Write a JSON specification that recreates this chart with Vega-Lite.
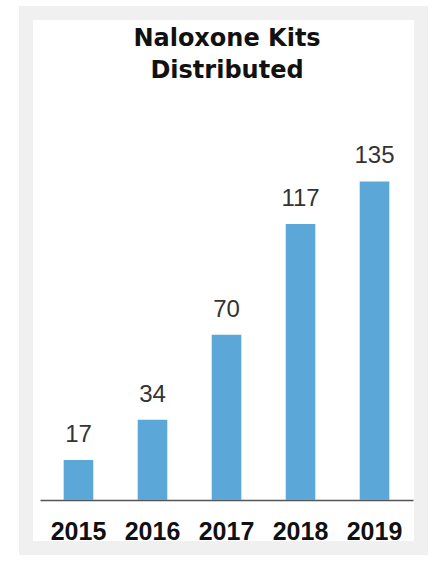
{
  "$schema": "https://vega.github.io/schema/vega-lite/v6.json",
  "width": 395,
  "height": 535,
  "autosize": {"type": "none"},
  "padding": {"left": 26, "top": 13, "right": 22, "bottom": 17},
  "background": "#ffffff",
  "title": {
    "text": ["Naloxone Kits", "Distributed"],
    "font": "DejaVu Sans",
    "fontSize": 24,
    "fontWeight": "bold",
    "color": "#111111",
    "anchor": "middle",
    "frame": "group",
    "baseline": "top",
    "lineHeight": 32,
    "offset": -69.5,
    "dx": 3.5
  },
  "config": {
    "view": {"fill": "#ffffff", "stroke": "#f0f0f0", "strokeWidth": 14}
  },
  "data": {
    "values": [
      {"year": "2015", "kits": 17},
      {"year": "2016", "kits": 34},
      {"year": "2017", "kits": 70},
      {"year": "2018", "kits": 117},
      {"year": "2019", "kits": 135}
    ]
  },
  "encoding": {
    "x": {
      "field": "year",
      "type": "ordinal",
      "scale": {"range": [14, 387], "paddingInner": 0.6, "paddingOuter": 0.32},
      "axis": {
        "title": null,
        "orient": "bottom",
        "offset": -48,
        "labelAngle": 0,
        "ticks": false,
        "tickSize": 0,
        "labelPadding": 19,
        "labelFont": "Liberation Sans",
        "labelFontSize": 25,
        "labelFontWeight": "bold",
        "labelColor": "#111111",
        "domainColor": "#555555",
        "domainWidth": 1.5,
        "grid": false
      }
    },
    "y": {
      "field": "kits",
      "type": "quantitative",
      "scale": {"domain": [0, 135], "range": [487, 168.4], "zero": true},
      "axis": null
    }
  },
  "layer": [
    {"mark": {"type": "bar", "color": "#5aa7d8"}},
    {
      "mark": {
        "type": "text",
        "baseline": "alphabetic",
        "dy": -18,
        "font": "Liberation Sans",
        "fontSize": 24,
        "color": "#333333"
      },
      "encoding": {"text": {"field": "kits", "type": "quantitative"}}
    }
  ]
}
